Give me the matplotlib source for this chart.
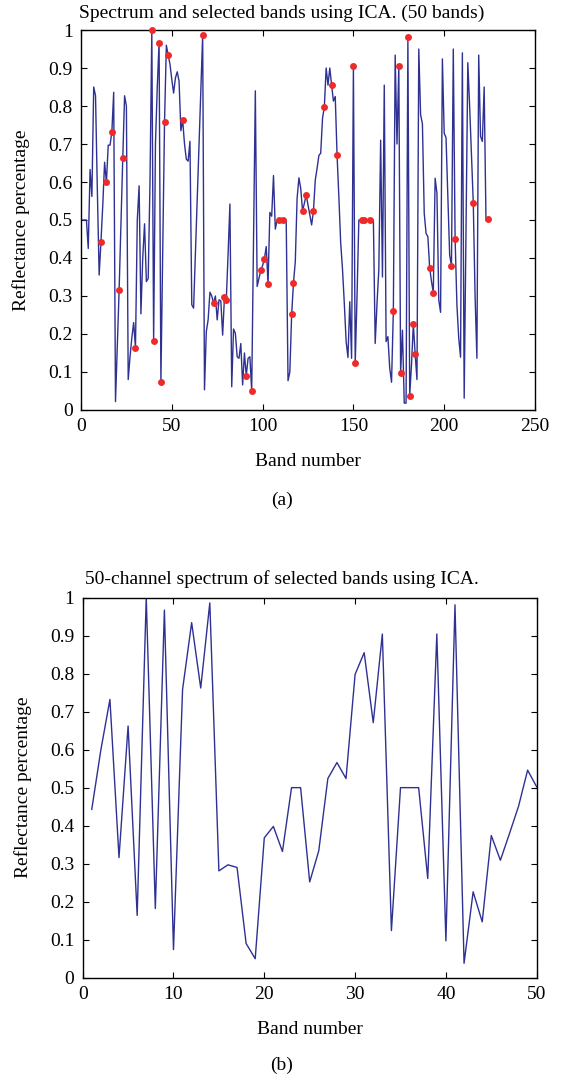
import matplotlib
matplotlib.use("Agg")
import matplotlib.pyplot as plt
import numpy as np

# full spectrum, one value per band (1..224)
spectrum = [
    0.50, 0.50, 0.50, 0.425, 0.633, 0.562, 0.85, 0.827, 0.58, 0.355,
    0.443, 0.54, 0.652, 0.599, 0.697, 0.697, 0.732, 0.836, 0.022, 0.17,
    0.316, 0.49, 0.662, 0.827, 0.80, 0.08, 0.14, 0.19, 0.23, 0.164,
    0.50, 0.59, 0.253, 0.40, 0.49, 0.338, 0.346, 0.60, 1.0, 0.182,
    0.70, 0.85, 0.967, 0.074, 0.42, 0.758, 0.96, 0.934, 0.91, 0.87,
    0.834, 0.874, 0.89, 0.865, 0.735, 0.762, 0.70, 0.66, 0.655, 0.707,
    0.277, 0.268, 0.41, 0.55, 0.70, 0.84, 0.986, 0.053, 0.206, 0.237,
    0.31, 0.30, 0.281, 0.30, 0.237, 0.29, 0.287, 0.197, 0.297, 0.290,
    0.41, 0.542, 0.061, 0.213, 0.202, 0.14, 0.136, 0.175, 0.066, 0.15,
    0.090, 0.136, 0.14, 0.050, 0.45, 0.84, 0.325, 0.347, 0.368, 0.38,
    0.398, 0.43, 0.332, 0.52, 0.51, 0.617, 0.476, 0.5, 0.5, 0.5,
    0.5, 0.5, 0.5, 0.077, 0.10, 0.252, 0.334, 0.39, 0.557, 0.611,
    0.583, 0.524, 0.544, 0.566, 0.54, 0.513, 0.487, 0.524, 0.605, 0.636,
    0.67, 0.676, 0.768, 0.798, 0.90, 0.855, 0.90, 0.855, 0.813, 0.825,
    0.671, 0.56, 0.44, 0.37, 0.28, 0.18, 0.138, 0.285, 0.136, 0.904,
    0.124, 0.30, 0.5, 0.5, 0.5, 0.5, 0.5, 0.5, 0.5, 0.5,
    0.5, 0.175, 0.28, 0.37, 0.71, 0.35, 0.855, 0.18, 0.193, 0.11,
    0.073, 0.261, 0.934, 0.70, 0.904, 0.097, 0.21, 0.018, 0.018, 0.981,
    0.038, 0.12, 0.226, 0.147, 0.08, 0.95, 0.777, 0.753, 0.518, 0.465,
    0.456, 0.374, 0.338, 0.309, 0.61, 0.57, 0.29, 0.257, 0.924, 0.728,
    0.717, 0.56, 0.408, 0.379, 0.95, 0.451, 0.276, 0.189, 0.139, 0.94,
    0.031, 0.47, 0.914, 0.80, 0.67, 0.546, 0.30, 0.136, 0.934, 0.72,
    0.707, 0.85, 0.50, 0.502,
]

# bands picked by ICA (1-based band numbers)
selected_bands = [
    11, 14, 17, 21, 23, 30, 39, 40, 43, 44,
    46, 48, 56, 67, 73, 79, 80, 91, 94, 99,
    101, 103, 109, 111, 116, 117, 122, 124, 128, 134,
    138, 141, 150, 151, 155, 156, 159, 172, 175, 176,
    180, 181, 183, 184, 192, 194, 204, 206, 216, 224,
]

line_color = '#2e3192'
dot_color = '#ee2b2b'

plt.rcParams['font.family'] = ['Liberation Serif', 'DejaVu Serif']
fs = 14

bands = np.arange(1, len(spectrum) + 1)
spec = np.array(spectrum)
sel = np.array(selected_bands)
sel_vals = spec[sel - 1]
channels = np.arange(1, len(sel) + 1)

fig = plt.figure(figsize=(5.64, 10.8), dpi=100)

# (a) full spectrum with selected bands
ax1 = fig.add_axes([0.1436, 0.6204, 0.805, 0.3518])
ax1.plot(bands, spec, color=line_color, lw=1.0)
ax1.plot(sel, sel_vals, 'o', color=dot_color, ms=5, mec='none', clip_on=False, zorder=3)
ax1.set_xlim(0, 250)
ax1.set_ylim(0, 1)
ax1.set_xticks(np.arange(0, 251, 50))
ax1.set_xlabel('Band number', labelpad=13, fontsize=fs)
ax1.set_ylabel('Reflectance percentage', labelpad=13, fontsize=fs)

# (b) the 50 selected channels
ax2 = fig.add_axes([0.1466, 0.0947, 0.805, 0.352])
ax2.plot(channels, sel_vals, color=line_color, lw=1.0)
ax2.set_xlim(0, 50)
ax2.set_ylim(0, 1)
ax2.set_xticks(np.arange(0, 51, 10))
ax2.set_xlabel('Band number', labelpad=13, fontsize=fs)
ax2.set_ylabel('Reflectance percentage', labelpad=13, fontsize=fs)

for ax in (ax1, ax2):
    ax.set_yticks(np.arange(0, 1.01, 0.1))
    ax.set_yticklabels(['0'] + ['%.1f' % v for v in np.arange(0.1, 0.95, 0.1)] + ['1'])
    ax.tick_params(direction='in', top=True, right=True, length=4, width=0.8,
                   labelsize=fs, pad=6)
    for s in ax.spines.values():
        s.set_linewidth(1.0)

# titles sit centred on the page, as in the original figure
fig.text(0.5, 1 - 13 / 1080, 'Spectrum and selected bands using ICA. (50 bands)',
         ha='center', va='center', fontsize=fs)
fig.text(0.5, 1 - 579 / 1080, '50-channel spectrum of selected bands using ICA.',
         ha='center', va='center', fontsize=fs)

fig.text(0.5, 1 - 500 / 1080, '(a)', ha='center', va='center', fontsize=fs)
fig.text(0.5, 1 - 1065 / 1080, '(b)', ha='center', va='center', fontsize=fs)

fig.savefig('out.png', dpi=100)
